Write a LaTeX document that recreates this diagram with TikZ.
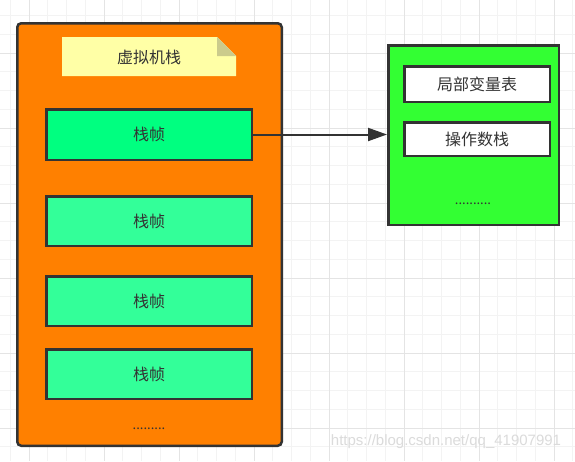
\documentclass[tikz,border=0pt]{standalone}
\usepackage{fontspec}
\newfontfamily\cjk{Noto Sans CJK SC}
\newfontfamily\wmfont{Liberation Sans}
\usetikzlibrary{arrows.meta}

\definecolor{gridminor}{HTML}{F3F3F3}
\definecolor{gridmajor}{HTML}{E4E4E4}
\definecolor{stackorange}{HTML}{FF8000}
\definecolor{noteyellow}{HTML}{FFFFA6}
\definecolor{notefold}{HTML}{CBCB8C}
\definecolor{frametop}{HTML}{00FF80}
\definecolor{framerest}{HTML}{33FF99}
\definecolor{slotgreen}{HTML}{33FF33}
\definecolor{linedark}{HTML}{333333}

\begin{document}
\begin{tikzpicture}[
            x=1pt, y=-1pt,
            box/.style={draw=linedark, line width=2.5pt, inner sep=0pt},
            cjktext/.style={font=\cjk\fontsize{16}{19}\selectfont, text=linedark},
            framebox/.style={box, fill=framerest, minimum width=205.5pt, minimum height=49.5pt, cjktext},
            slotbox/.style={box, fill=white, minimum width=145.5pt, cjktext},
            dotstext/.style={font=\cjk\fontsize{13}{15}\selectfont, text=linedark}
                           ]
            \useasboundingbox (0,0) rectangle (575,461);

            % 1. Draw the grid in the background
            \fill[white] (0,0) rectangle (575,461);
            \foreach \x in {10.25, 29, ..., 575} {
                \draw[gridminor, line width=1pt] (\x, 0) -- (\x, 461);
            }
            \foreach \y in {15.5, 34.25, ..., 461} {
                \draw[gridminor, line width=1pt] (0, \y) -- (575, \y);
            }
            \foreach \x in {29, 104, ..., 575} {
                \draw[gridmajor, line width=1pt] (\x, 0) -- (\x, 461);
            }
            \foreach \y in {53, 128, ..., 461} {
                \draw[gridmajor, line width=1pt] (0, \y) -- (575, \y);
            }

            % 2. The orange stack with its note
            \node[box, fill=stackorange, rounded corners=4pt, minimum width=264.5pt, minimum height=422.5pt] (vmstack) at (149.5, 234.5) {};
            \fill[noteyellow] (62,37) -- (217,37) -- (236,56) -- (236,76) -- (62,76) -- cycle;
            \fill[notefold] (217,37) -- (217,56) -- (236,56) -- cycle;
            \node[cjktext] (stacktitle) at (149, 57) {虚拟机栈};

            % 3. The frames, the first one lighter
            \node[framebox, fill=frametop, minimum height=50.5pt] (frame1) at (149, 134.5) {栈帧};
            \node[framebox] (frame2) at (149, 221) {栈帧};
            \node[framebox] (frame3) at (149, 301) {栈帧};
            \node[framebox] (frame4) at (149, 374) {栈帧};
            \node[dotstext] (stackdots) at (149, 429) {.........};

            % 4. The frame contents on the right
            \node[box, fill=slotgreen, minimum width=170.5pt, minimum height=179.5pt] (framedetail) at (473.5, 135) {};
            \node[slotbox, minimum height=35.5pt] (localvars) at (477, 84) {局部变量表};
            \node[slotbox, minimum height=33.5pt] (operands) at (477, 139) {操作数栈};
            \node[dotstext] (detaildots) at (473, 204) {..........};

            % 5. Arrow from the first frame to its contents
            \draw[linedark, line width=2pt, -{Triangle[length=19pt, width=13pt]}] (frame1.east) -- (framedetail.west |- frame1.east);

            % 6. Watermark
            \node[font=\wmfont\fontsize{15}{17}\selectfont, text=black!14] (watermark) at (446, 442) {https://blog.csdn.net/qq\_41907991};

        \end{tikzpicture}
\end{document}
